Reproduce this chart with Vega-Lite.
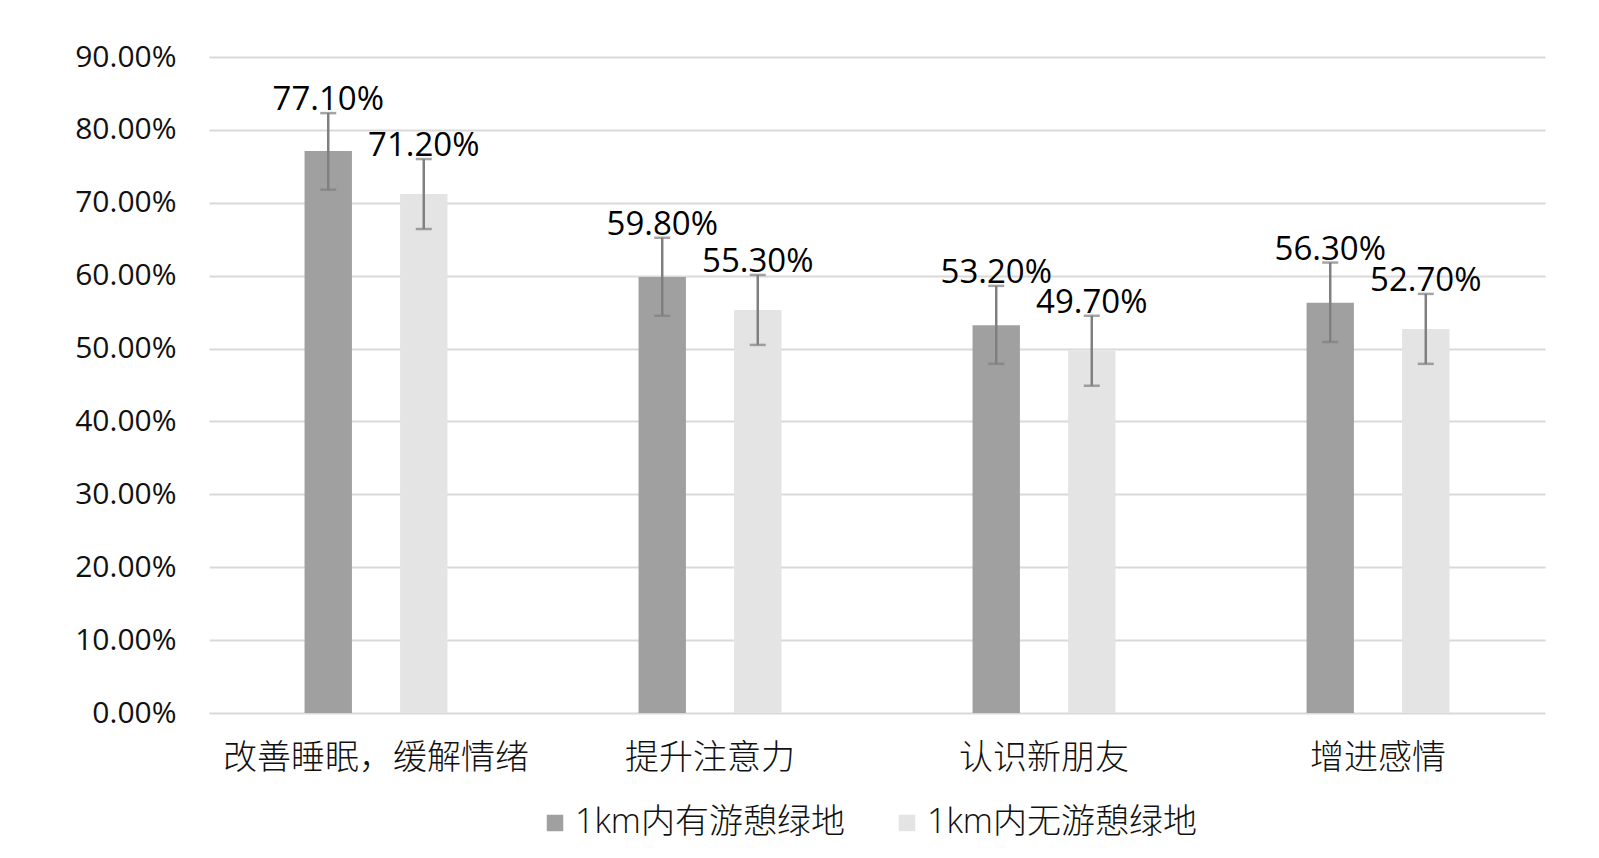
{
  "$schema": "https://vega.github.io/schema/vega-lite/v6.json",
  "autosize": "none",
  "width": 1336,
  "height": 656,
  "padding": {"left": 209, "top": 57, "right": 54, "bottom": 145},
  "background": "white",
  "config": {
    "view": {"stroke": null},
    "font": "Open Sans"
  },
  "data": {
    "values": [
      {"cat": "改善睡眠，缓解情绪", "grp": "1km内有游憩绿地", "v": 0.771, "lo": 0.718, "hi": 0.823},
      {"cat": "改善睡眠，缓解情绪", "grp": "1km内无游憩绿地", "v": 0.712, "lo": 0.664, "hi": 0.760},
      {"cat": "提升注意力", "grp": "1km内有游憩绿地", "v": 0.598, "lo": 0.545, "hi": 0.652},
      {"cat": "提升注意力", "grp": "1km内无游憩绿地", "v": 0.553, "lo": 0.505, "hi": 0.601},
      {"cat": "认识新朋友", "grp": "1km内有游憩绿地", "v": 0.532, "lo": 0.479, "hi": 0.586},
      {"cat": "认识新朋友", "grp": "1km内无游憩绿地", "v": 0.497, "lo": 0.449, "hi": 0.545},
      {"cat": "增进感情", "grp": "1km内有游憩绿地", "v": 0.563, "lo": 0.509, "hi": 0.618},
      {"cat": "增进感情", "grp": "1km内无游憩绿地", "v": 0.527, "lo": 0.479, "hi": 0.575}
    ]
  },
  "encoding": {
    "x": {
      "field": "cat", "type": "nominal", "sort": null,
      "scale": {"paddingInner": 0, "paddingOuter": 0},
      "axis": {
        "title": null, "labelAngle": 0, "domain": false, "ticks": false,
        "labelFont": "Noto Sans CJK SC", "labelFontSize": 34, "labelFontWeight": 300,
        "labelColor": "#111111", "labelPadding": 28, "labelLimit": 600
      }
    },
    "xOffset": {
      "field": "grp", "type": "nominal", "sort": null,
      "scale": {"paddingInner": 0.504, "paddingOuter": 1.0}
    }
  },
  "layer": [
    {
      "mark": {"type": "bar"},
      "encoding": {
        "y": {
          "field": "v", "type": "quantitative",
          "scale": {"domain": [0, 0.9], "nice": false},
          "axis": {
            "title": null, "format": ".2%", "values": [0, 0.1, 0.2, 0.3, 0.4, 0.5, 0.6, 0.7, 0.8, 0.9],
            "labelOverlap": false,
            "domain": false, "ticks": false, "grid": true,
            "gridColor": "#d9d9d9", "gridWidth": 2,
            "labelFont": "Open Sans", "labelFontSize": 30, "labelColor": "#111111",
            "labelPadding": 33
          }
        },
        "color": {
          "field": "grp", "type": "nominal", "sort": null,
          "scale": {"range": ["#a0a0a0", "#e4e4e4"]},
          "legend": {
            "orient": "none", "legendX": 329, "legendY": 749,
            "direction": "horizontal", "title": null,
            "symbolType": "square", "symbolSize": 272, "symbolStrokeWidth": 0,
            "labelFont": "Open Sans, Noto Sans CJK SC", "labelFontSize": 34, "labelFontWeight": 300, "labelColor": "#111111",
            "labelOffset": 3, "columnPadding": 45, "labelLimit": 400
          }
        }
      }
    },
    {
      "mark": {"type": "rule", "color": "#7f7f7f", "strokeWidth": 2.5},
      "encoding": {
        "y": {"field": "lo", "type": "quantitative"},
        "y2": {"field": "hi"}
      }
    },
    {
      "mark": {"type": "tick", "color": "#7f7f7f", "thickness": 2.5, "size": 16},
      "encoding": {
        "y": {"field": "lo", "type": "quantitative"}
      }
    },
    {
      "mark": {"type": "tick", "color": "#7f7f7f", "thickness": 2.5, "size": 16},
      "encoding": {
        "y": {"field": "hi", "type": "quantitative"}
      }
    },
    {
      "mark": {"type": "text", "baseline": "alphabetic", "dy": -3, "fontSize": 33, "font": "Open Sans", "color": "#000000"},
      "encoding": {
        "y": {"field": "hi", "type": "quantitative"},
        "text": {"field": "v", "type": "quantitative", "format": ".2%"}
      }
    }
  ]
}
